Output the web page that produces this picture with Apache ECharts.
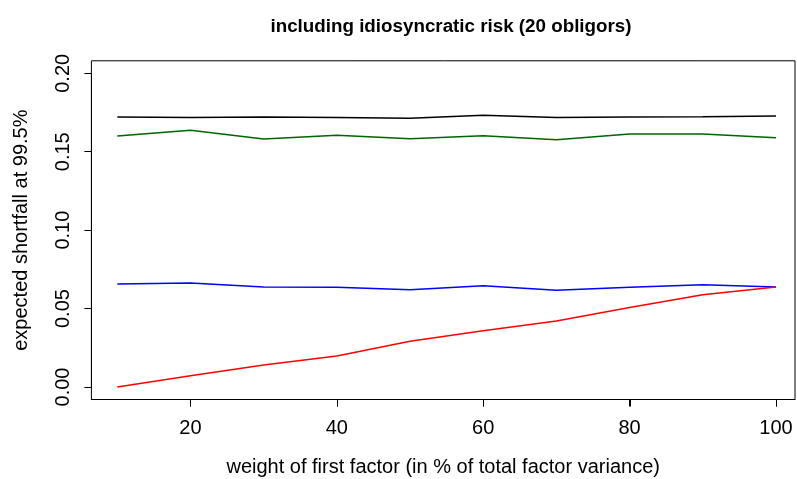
<!DOCTYPE html>
<html>
<head>
<meta charset="utf-8">
<script src="https://cdn.jsdelivr.net/npm/echarts@6/dist/echarts.min.js"></script>
<style>html,body{margin:0;padding:0;background:#fff}#c{width:797px;height:479px}</style>
</head>
<body>
<div id="c"></div>
<script>
const weights = [10, 20, 30, 40, 50, 60, 70, 80, 90, 100];
const esBlack = [0.1721, 0.1718, 0.1721, 0.1719, 0.1713, 0.1732, 0.1719, 0.1721, 0.1723, 0.1728];
const esGreen = [0.1600, 0.1637, 0.1581, 0.1605, 0.1583, 0.1602, 0.1577, 0.1613, 0.1613, 0.1589];
const esBlue  = [0.0657, 0.0663, 0.0638, 0.0636, 0.0620, 0.0646, 0.0617, 0.0636, 0.0652, 0.0638];
const esRed   = [0.0000, 0.0072, 0.0140, 0.0198, 0.0291, 0.0359, 0.0421, 0.0506, 0.0588, 0.0638];
const xTicks = [20, 40, 60, 80, 100];
const yTicks = [0.00, 0.05, 0.10, 0.15, 0.20];

const FONT = '"Liberation Sans", Arial, sans-serif';
const pairs = arr => weights.map((w, i) => [w, arr[i]]);
const mk = (name, arr, color) => ({
  name, type: 'line', data: pairs(arr), xAxisIndex: 0, yAxisIndex: 0,
  showSymbol: false, symbol: 'none', lineStyle: { color, width: 1.5 }, itemStyle: { color },
  silent: true
});
const hiddenAxis = (grid) => ({ type: 'value', gridIndex: grid, show: false, min: 0, max: 1,
  axisLine: { show: false, onZero: false }, axisTick: { show: false }, axisLabel: { show: false }, splitLine: { show: false } });

const chart = echarts.init(document.getElementById('c'), null, { renderer: 'canvas' });
chart.setOption({
  animation: false,
  backgroundColor: '#fff',
  title: {
    text: 'including idiosyncratic risk (20 obligors)',
    left: 446, top: 12, textAlign: 'center',
    textStyle: { fontFamily: FONT, fontSize: 18.8, fontWeight: 'bold', color: '#000' }
  },
  grid: [
    { left: 91.4, right: 2, top: 60.8, bottom: 79.5, show: true, borderColor: '#000', borderWidth: 1,
      backgroundColor: 'transparent', containLabel: false, outerBoundsMode: 'none' },
    { left: 91.4, right: 21, top: 73.3, bottom: 92, containLabel: false, outerBoundsMode: 'none' }
  ],
  xAxis: [
    { type: 'value', gridIndex: 0, min: 6.46, max: 102.6, position: 'bottom',
      axisLine: { show: true, onZero: false, lineStyle: { color: '#000', width: 1 } },
      axisTick: { show: true, inside: false, length: 7, customValues: xTicks, lineStyle: { color: '#000', width: 1 } },
      axisLabel: { show: true, customValues: xTicks, fontFamily: FONT, fontSize: 20, color: '#000', margin: 19 },
      splitLine: { show: false },
      name: 'weight of first factor (in % of total factor variance)', nameLocation: 'middle', nameGap: 58,
      nameTextStyle: { fontFamily: FONT, fontSize: 20, color: '#000' } },
    hiddenAxis(1)
  ],
  yAxis: [
    { type: 'value', gridIndex: 0, min: -0.008, max: 0.208,
      axisLine: { show: false, onZero: false }, axisTick: { show: false }, axisLabel: { show: false }, splitLine: { show: false },
      name: 'expected shortfall at 99.5%', nameLocation: 'middle', nameGap: 60, nameRotate: 90,
      nameTextStyle: { fontFamily: FONT, fontSize: 20, color: '#000' } },
    { type: 'value', gridIndex: 1, min: yTicks[0], max: yTicks[yTicks.length - 1], interval: 0.05,
      position: 'left',
      axisLine: { show: true, onZero: false, lineStyle: { color: '#000', width: 1 } },
      axisTick: { show: true, inside: false, length: 7, lineStyle: { color: '#000', width: 1 } },
      axisLabel: { fontFamily: FONT, fontSize: 20, color: '#000', margin: 18, rotate: 90,
        formatter: v => v.toFixed(2) },
      splitLine: { show: false } }
  ],
  series: [
    mk('black', esBlack, '#000000'),
    mk('green', esGreen, '#006400'),
    mk('blue', esBlue, '#0000ff'),
    mk('red', esRed, '#ff0000')
  ]
});

// x tick marks below the box, placed through the axis scale
const yBottom = chart.convertToPixel({ yAxisIndex: 0 }, -0.008);
chart.setOption({
  graphic: xTicks.map(v => {
    const px = Math.round(chart.convertToPixel({ xAxisIndex: 0 }, v)) + 0.5;
    return { type: 'line', silent: true, z: 100,
      shape: { x1: px, y1: yBottom, x2: px, y2: yBottom + 7 },
      style: { stroke: '#000', lineWidth: 1 } };
  })
});
</script>
</body>
</html>
